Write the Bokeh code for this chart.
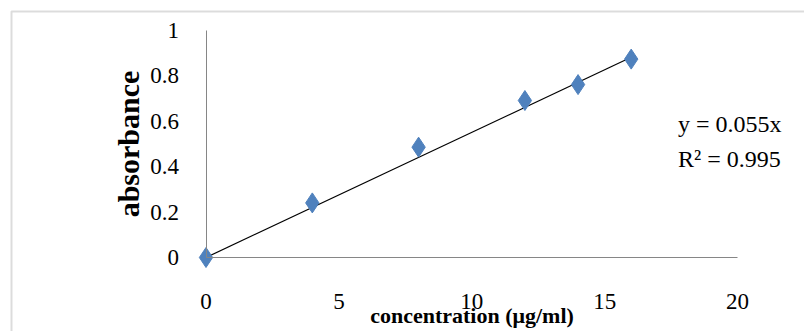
from bokeh.plotting import figure
from bokeh.models import Range1d, FixedTicker, NumeralTickFormatter, Label, BoxAnnotation
from bokeh.embed import file_html
from bokeh.resources import INLINE

# data
concentration = [0, 4, 8, 12, 14, 16]
absorbance = [0, 0.24, 0.485, 0.69, 0.76, 0.872]
slope = 0.055
r_squared = 0.995
trend_x = [0, 16]
trend_y = [slope * x for x in trend_x]
x_ticks = [0, 5, 10, 15, 20]
y_ticks = [0, 0.2, 0.4, 0.6, 0.8, 1]
x_lo, x_hi = 0, 20
y_lo, y_hi = 0, 1

FONT = "Liberation Serif"
AXIS_GRAY = "#868686"

# layout (pixels on the canvas): where the data area lies
W, H = 804, 331
px_x_lo, px_x_hi = 205.5, 737.0
px_y_hi, px_y_lo = 29.5, 257.0
sx = (px_x_hi - px_x_lo) / (x_hi - x_lo)
sy = (px_y_lo - px_y_hi) / (y_hi - y_lo)
x_range = Range1d(x_lo - px_x_lo / sx, x_hi + (W - px_x_hi) / sx)
y_range = Range1d(y_lo - (H - px_y_lo) / sy, y_hi + px_y_hi / sy)

p = figure(width=W, height=H, output_backend="svg", toolbar_location=None,
           x_range=x_range, y_range=y_range, min_border=0)
p.background_fill_color = "white"
p.border_fill_color = "white"
p.outline_line_color = None
p.xgrid.visible = False
p.ygrid.visible = False

for ax in (p.xaxis[0], p.yaxis[0]):
    ax.fixed_location = 0
    ax.axis_line_color = AXIS_GRAY
    ax.axis_line_width = 1
    ax.major_tick_line_color = None
    ax.minor_tick_line_color = None
    ax.major_tick_out = 0
    ax.major_tick_in = 0
    ax.major_label_text_font = FONT
    ax.major_label_text_font_size = "23px"
    ax.major_label_text_color = "black"

p.xaxis.bounds = (x_lo, x_hi)
p.yaxis.bounds = (y_lo, y_hi)
p.xaxis.ticker = FixedTicker(ticks=x_ticks)
p.yaxis.ticker = FixedTicker(ticks=y_ticks)
p.yaxis.formatter = NumeralTickFormatter(format="0.[0]")
p.xaxis.major_label_standoff = 36
p.yaxis.major_label_standoff = 27

p.yaxis.axis_label = "absorbance"
p.yaxis.axis_label_text_font = FONT
p.yaxis.axis_label_text_font_style = "bold"
p.yaxis.axis_label_text_font_size = "30px"
p.yaxis.axis_label_text_color = "black"
p.yaxis.axis_label_standoff = 3

p.xaxis.axis_label = "concentration (μg/ml)"
p.xaxis.axis_label_text_font = FONT
p.xaxis.axis_label_text_font_style = "bold"
p.xaxis.axis_label_text_font_size = "22px"
p.xaxis.axis_label_text_color = "black"
p.xaxis.axis_label_standoff = -9

# trendline and points
p.line(trend_x, trend_y, line_color="black", line_width=1.2)
p.scatter(concentration, absorbance, marker="diamond", size=20,
          fill_color="#4f81bd", line_color="#4f81bd")

# equation
p.add_layout(Label(x=17.76, y=0.585, text=f"y = {slope}x", text_font=FONT,
                   text_font_size="24px", text_baseline="middle", text_color="black"))
p.add_layout(Label(x=17.76, y=0.431, text=f"R² = {r_squared}", text_font=FONT,
                   text_font_size="24px", text_baseline="middle", text_color="black"))

# outer chart border (runs past the right and bottom edges)
p.add_layout(BoxAnnotation(left=11, right=W + 50, top=11, bottom=H + 50,
                           left_units="canvas", right_units="canvas",
                           top_units="canvas", bottom_units="canvas",
                           fill_color=None, fill_alpha=0, line_color="#8c8c8c", line_width=2))

open("out.html", "w").write(file_html(p, INLINE))
